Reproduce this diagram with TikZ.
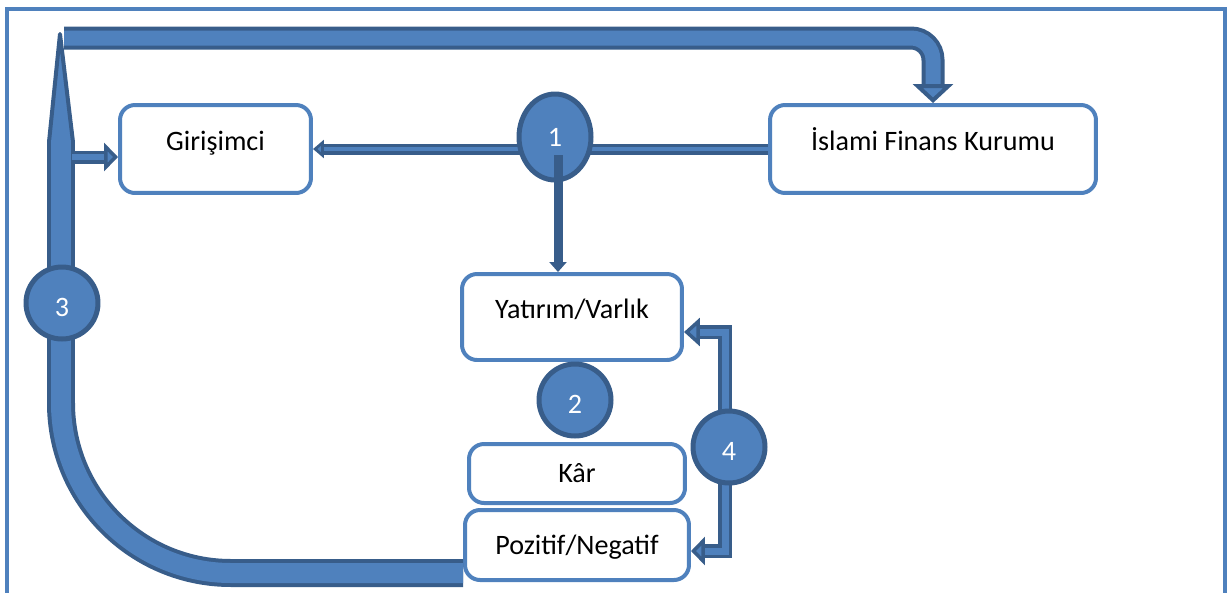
\documentclass[tikz,border=0pt]{standalone}
\usepackage{fontspec}
\setmainfont{Carlito}
\usetikzlibrary{arrows.meta,shapes.geometric,calc}
\definecolor{ifklight}{HTML}{4F81BD}
\definecolor{ifkdark}{HTML}{385D8A}

\begin{document}
\begin{tikzpicture}[
  x=0.02cm, y=-0.02cm,
  ifkframe/.style = {draw=ifklight, line width=0.08cm},
  ifkbox/.style = {draw=ifklight, line width=0.08cm, fill=white, rounded corners=0.3cm,
    inner sep=0pt, font=\fontsize{16}{19}\selectfont},
  ifktop/.style = {text height=11pt, text depth=9.7pt},
  ifkmid/.style = {text height=11pt, text depth=0.6pt},
  ifkstep/.style = {circle, draw=ifkdark, line width=0.1cm, fill=ifklight, text=white,
    minimum size=1.44cm, inner sep=0pt, text height=15pt, text depth=0pt,
    font=\fontsize{16}{19}\selectfont},
  ifkpipe/.style = {draw=ifkdark, line width=0.08cm, double=ifklight, double distance=#1},
  ifkpipe/.default = 0.3cm,
  ifkline/.style = {draw=ifkdark, line width=0.07cm, double=ifklight, double distance=#1},
  ifkline/.default = 0.08cm,
  ifkdart/.style = {draw=ifkdark, line width=0.18cm, -{Triangle[length=0.2cm,width=0.34cm]}}
]
  \useasboundingbox (0,0) rectangle (1229,592);
  % cerceve
  \draw[ifkframe] (7,620) -- (7,9) -- (1225,9) -- (1225,620);
  % kutular
  \node[ifkbox, ifktop, minimum width=3.82cm, minimum height=1.76cm] (gir) at (215.5,149) {Girişimci};
  \node[ifkbox, ifktop, minimum width=6.52cm, minimum height=1.76cm] (isl) at (933,149) {İslami Finans Kurumu};
  \node[ifkbox, ifktop, minimum width=4.4cm, minimum height=1.72cm] (yat) at (572,317) {Yatırım/Varlık};
  \node[ifkbox, ifkmid, minimum width=4.32cm, minimum height=1.18cm] (kar) at (577,473.5) {Kâr};
  \node[ifkbox, ifkmid, minimum width=4.48cm, minimum height=1.4cm] (poz) at (577,545) {Pozitif/Negatif};
  % 1: kurumdan girisimciye ve yatirima
  \draw[ifkline, -{Triangle[length=0.22cm,width=0.36cm,fill=ifklight,line width=0.06cm]}] (isl.west) -- (gir.east);
  \node[ifkstep, ellipse, ifkmid, minimum width=1.44cm, minimum height=1.72cm] (c1) at (555,137) {1};
  \coordinate (c1tail) at ($(c1.center)+(3,18)$);
  \draw[ifkdart] (c1tail) -- (c1tail |- yat.north);
  % 2
  \node[ifkstep] (c2) at (575,400) {2};
  % 3: sonuc geri donuyor
  \coordinate (p3a) at ([yshift=0.18cm]poz.south west);
  \coordinate (spikebase) at (61,140);
  \coordinate (spiketip) at (60,34);
  \filldraw[fill=ifklight, draw=ifkdark, line width=0.08cm, line join=round]
    (49,142) -- (spiketip) -- (73,142);
  \draw[ifkpipe=0.4cm, rounded corners=3.4cm] (p3a) -- (spikebase |- p3a) -- (spikebase);
  \coordinate (topa) at (64,38);
  \draw[ifkpipe=0.3cm, rounded corners=0.44cm,
    -{Triangle[length=0.38cm,width=0.8cm,fill=ifklight,line width=0.08cm]}]
    (topa) -- (topa -| isl.north) -- (isl.north);
  \coordinate (girtail) at (72,157);
  \draw[ifkline=0.12cm, -{Triangle[length=0.28cm,width=0.56cm,fill=ifklight,line width=0.07cm]}]
    (girtail) -- (girtail -| gir.west);
  \node[ifkstep] (c3) at (62,303) {3};
  % 4: yeniden yatirim
  \coordinate (a4top) at ([yshift=-0.3cm]yat.east);
  \coordinate (a4bot) at ([yshift=-0.12cm]poz.east);
  \coordinate (a4col) at (725,447);
  \draw[ifkline=0.14cm, line join=miter,
    {Triangle[length=0.32cm,width=0.56cm,fill=ifklight,line width=0.07cm]}-{Triangle[length=0.28cm,width=0.56cm,fill=ifklight,line width=0.07cm]}]
    (a4top) -- (a4top -| a4col) -- (a4col |- a4bot) -- (a4bot);
  \node[ifkstep] (c4) at (729,447) {4};
\end{tikzpicture}
\end{document}
